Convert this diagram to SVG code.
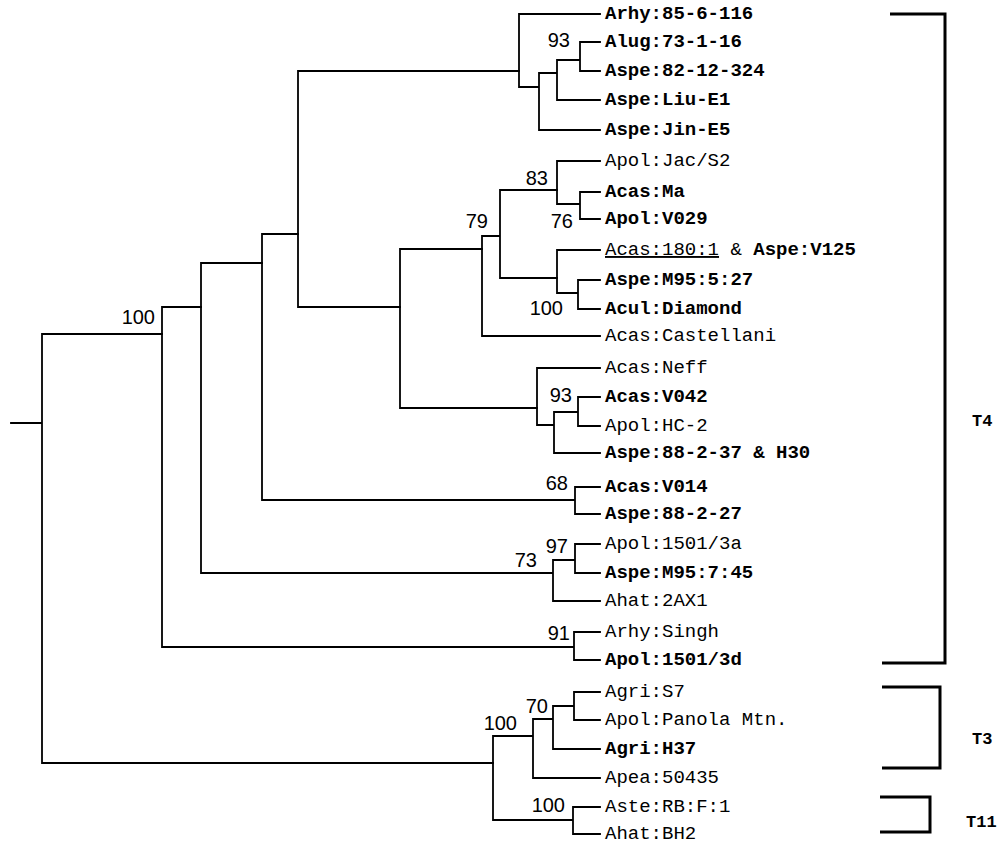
<svg xmlns="http://www.w3.org/2000/svg" width="1007" height="852" viewBox="0 0 1007 852">
<style>
.br{stroke:#000;stroke-width:1.8;fill:none;stroke-linecap:square}
.bk{stroke:#000;stroke-width:3;fill:none}
.lf{font-family:"Liberation Mono","Courier New",monospace;font-size:19px;fill:#000}
.b{font-weight:bold}
.bs{font-family:"Liberation Sans",Arial,sans-serif;font-size:20px;fill:#000;text-anchor:end}
.cl{font-family:"Liberation Mono","Courier New",monospace;font-size:17px;fill:#000;font-weight:bold}
</style>
<rect width="1007" height="852" fill="#fff"/>
<g id="connectors" class="br">
<path d="M11,423H42M42,334V763M42,334H162M42,763H493"/>
<path d="M162,307V647M162,307H201M162,647H574M574,632V660M574,632H600M574,660H600"/>
<path d="M201,263V573M201,263H262M201,573H553M553,560V601M553,560H575M553,601H600M575,544V573M575,544H600M575,573H600"/>
<path d="M262,234V500M262,234H298M262,500H575M575,487V514M575,487H600M575,514H600"/>
<path d="M298,71V307M298,71H519M298,307H400"/>
<path d="M519,14V87M519,14H600M519,87H539M539,73V130M539,73H557M539,130H600M557,60V100M557,60H580M557,100H600M580,42V71M580,42H600M580,71H600"/>
<path d="M400,249V408M400,249H482M400,408H537"/>
<path d="M482,236V336M482,236H500M482,336H600M500,190V278M500,190H557M500,278H557"/>
<path d="M557,161V204M557,161H600M557,204H580M580,192V219M580,192H600M580,219H600"/>
<path d="M557,250V293M557,250H600M557,293H578M578,280V309M578,280H600M578,309H600"/>
<path d="M537,368V425M537,368H600M537,425H554M554,412V453M554,412H578M554,453H600M578,397V426M578,397H600M578,426H600"/>
<path d="M493,736V820M493,736H533M493,820H573M533,719V778M533,719H553M533,778H600M553,706V749M553,706H574M553,749H600M574,692V720M574,692H600M574,720H600M573,807V834M573,807H600M573,834H600"/>
</g>
<g id="brackets" class="bk">
<path d="M890,14H945V663H882"/>
<path d="M882,687H940V768H882"/>
<path d="M880,797H930V832H880"/>
</g>
<g id="support">
<text class="bs" x="570" y="47">93</text>
<text class="bs" x="548" y="185">83</text>
<text class="bs" x="573" y="228">76</text>
<text class="bs" x="488" y="228">79</text>
<text class="bs" x="563" y="315">100</text>
<text class="bs" x="155" y="324">100</text>
<text class="bs" x="572" y="402">93</text>
<text class="bs" x="568" y="490">68</text>
<text class="bs" x="568" y="553">97</text>
<text class="bs" x="537" y="567">73</text>
<text class="bs" x="570" y="640">91</text>
<text class="bs" x="548" y="713">70</text>
<text class="bs" x="517" y="730">100</text>
<text class="bs" x="565" y="812">100</text>
</g>
<g id="leaves">
<text class="lf b" x="605" y="19">Arhy:85-6-116</text>
<text class="lf b" x="605" y="47">Alug:73-1-16</text>
<text class="lf b" x="605" y="76">Aspe:82-12-324</text>
<text class="lf b" x="605" y="105">Aspe:Liu-E1</text>
<text class="lf b" x="605" y="135">Aspe:Jin-E5</text>
<text class="lf" x="605" y="166">Apol:Jac/S2</text>
<text class="lf b" x="605" y="197">Acas:Ma</text>
<text class="lf b" x="605" y="224">Apol:V029</text>
<text class="lf" x="605" y="255"><tspan text-decoration="underline">Acas:180:1</tspan> &amp; <tspan class="b">Aspe:V125</tspan></text>
<text class="lf b" x="605" y="285">Aspe:M95:5:27</text>
<text class="lf b" x="605" y="314">Acul:Diamond</text>
<text class="lf" x="605" y="341">Acas:Castellani</text>
<text class="lf" x="605" y="373">Acas:Neff</text>
<text class="lf b" x="605" y="402">Acas:V042</text>
<text class="lf" x="605" y="431">Apol:HC-2</text>
<text class="lf b" x="605" y="458">Aspe:88-2-37 &amp; H30</text>
<text class="lf b" x="605" y="492">Acas:V014</text>
<text class="lf b" x="605" y="519">Aspe:88-2-27</text>
<text class="lf" x="605" y="549">Apol:1501/3a</text>
<text class="lf b" x="605" y="578">Aspe:M95:7:45</text>
<text class="lf" x="605" y="606">Ahat:2AX1</text>
<text class="lf" x="605" y="637">Arhy:Singh</text>
<text class="lf b" x="605" y="665">Apol:1501/3d</text>
<text class="lf" x="605" y="697">Agri:S7</text>
<text class="lf" x="605" y="725">Apol:Panola Mtn.</text>
<text class="lf b" x="605" y="754">Agri:H37</text>
<text class="lf" x="605" y="783">Apea:50435</text>
<text class="lf" x="605" y="812">Aste:RB:F:1</text>
<text class="lf" x="605" y="839">Ahat:BH2</text>
</g>
<g id="clades">
<text class="cl" x="972" y="426">T4</text>
<text class="cl" x="972" y="744">T3</text>
<text class="cl" x="966" y="827">T11</text>
</g>
</svg>
